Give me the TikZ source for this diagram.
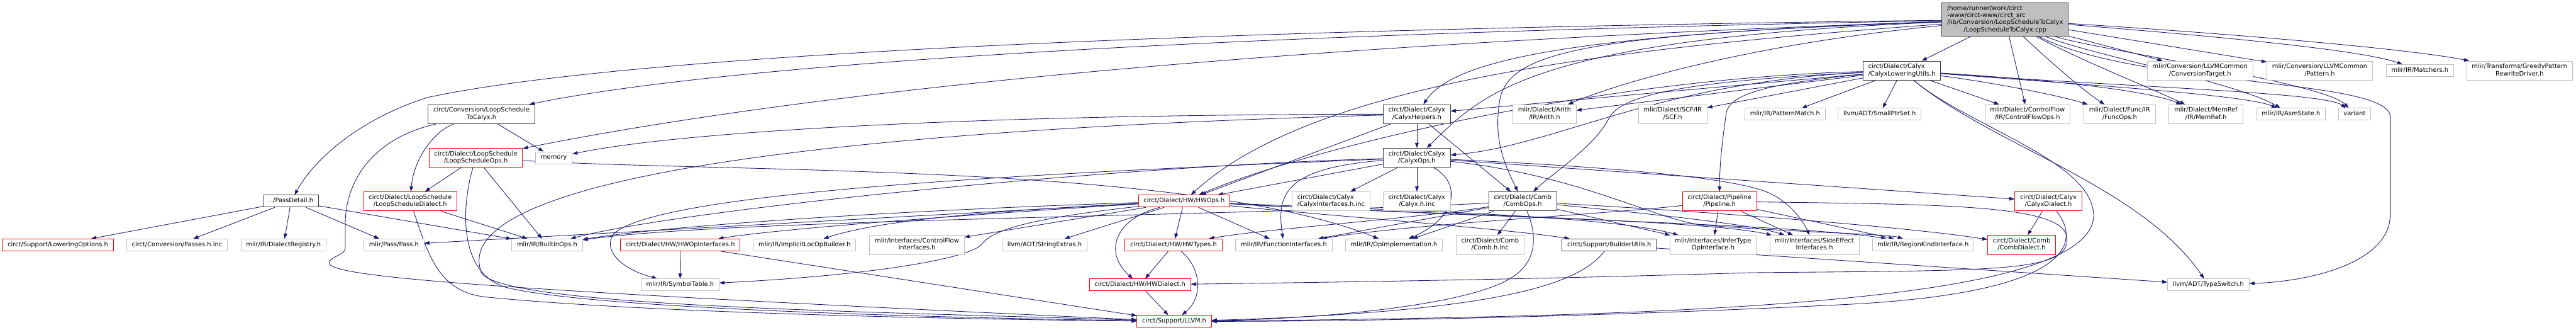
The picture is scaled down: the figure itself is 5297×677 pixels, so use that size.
\documentclass[tikz,border=0pt]{standalone}
\usepackage{fontspec}
\setmainfont{DejaVu Sans}
\usetikzlibrary{arrows.meta,backgrounds}
\definecolor{edgec}{HTML}{191970}
\definecolor{grayb}{HTML}{BFBFBF}
\definecolor{mainfill}{HTML}{BFBFBF}
\definecolor{mainb}{HTML}{404040}
\newcommand{\Lone}[1]{\begin{tabular}{@{}c@{}}#1\end{tabular}}
\newcommand{\Ltwo}[2]{\begin{tabular}{@{}l@{}}#1\\\multicolumn{1}{@{}c@{}}{#2}\end{tabular}}
\newcommand{\Lfour}[4]{\begin{tabular}{@{}l@{}}#1\\#2\\#3\\\multicolumn{1}{@{}c@{}}{#4}\end{tabular}}
\tikzset{
 bx/.style={rectangle, line width=1.2pt, fill=white, inner xsep=10.7pt, inner ysep=4.9pt, font=\fontsize{12.8}{14.7}\selectfont},
 nb/.style={bx, draw=mainb},
 ng/.style={bx, draw=grayb},
 nr/.style={bx, draw=red},
 nm/.style={bx, draw=mainb, fill=mainfill},
 ar/.style={draw=edgec, line width=1.1pt, -{Triangle[length=10.5pt,width=7.5pt]}},
}
\begin{document}
\begin{tikzpicture}[x=1pt,y=-1pt]
\useasboundingbox (0,0) rectangle (5297,677);
% nodes
\node[nm] (M) at (4123,40) {\Lfour{/home/runner/work/circt}{-www/circt-www/circt\_src}{/lib/Conversion/LoopScheduleToCalyx}{/LoopScheduleToCalyx.cpp}};
\node[nb] (PD) at (598.7,413) {\Lone{../PassDetail.h}};
\node[nr] (LO) at (119,503) {\Lone{circt/Support/LoweringOptions.h}};
\node[ng] (PI) at (364,503) {\Lone{circt/Conversion/Passes.h.inc}};
\node[ng] (DR) at (583,503) {\Lone{mlir/IR/DialectRegistry.h}};
\node[ng] (PS) at (810,503) {\Lone{mlir/Pass/Pass.h}};
\node[nr] (LSD) at (843.5,413.5) {\Ltwo{circt/Dialect/LoopSchedule}{/LoopScheduleDialect.h}};
\node[nb] (LSTC) at (990,234.5) {\Ltwo{circt/Conversion/LoopSchedule}{ToCalyx.h}};
\node[nr] (LSO) at (978.5,324) {\Ltwo{circt/Dialect/LoopSchedule}{/LoopScheduleOps.h}};
\node[ng] (MEM) at (1139,324) {\Lone{memory}};
\node[ng] (BO) at (1125,503) {\Lone{mlir/IR/BuiltinOps.h}};
\node[nr] (HOI) at (1399,503) {\Lone{circt/Dialect/HW/HWOpInterfaces.h}};
\node[ng] (ILB) at (1654.5,503) {\Lone{mlir/IR/ImplicitLocOpBuilder.h}};
\node[ng] (ST) at (1398.5,585) {\Lone{mlir/IR/SymbolTable.h}};
\node[ng] (CFI) at (1885.5,503) {\Ltwo{mlir/Interfaces/ControlFlow}{Interfaces.h}};
\node[ng] (SE) at (2148,503) {\Lone{llvm/ADT/StringExtras.h}};
\node[nr] (HWO) at (2435,413) {\Lone{circt/Dialect/HW/HWOps.h}};
\node[nr] (HWT) at (2413,503) {\Lone{circt/Dialect/HW/HWTypes.h}};
\node[nr] (HWD) at (2344,585) {\Lone{circt/Dialect/HW/HWDialect.h}};
\node[nr] (LLVM) at (2414.5,660) {\Lone{circt/Support/LLVM.h}};
\node[ng] (FI) at (2640,503) {\Lone{mlir/IR/FunctionInterfaces.h}};
\node[nb] (CH) at (2913.5,234.5) {\Ltwo{circt/Dialect/Calyx}{/CalyxHelpers.h}};
\node[nb] (CO) at (2913.5,324) {\Ltwo{circt/Dialect/Calyx}{/CalyxOps.h}};
\node[ng] (CII) at (2737,413.5) {\Ltwo{circt/Dialect/Calyx}{/CalyxInterfaces.h.inc}};
\node[ng] (CHI) at (2913.5,413.5) {\Ltwo{circt/Dialect/Calyx}{/Calyx.h.inc}};
\node[nb] (CB) at (3131,413.5) {\Ltwo{circt/Dialect/Comb}{/CombOps.h}};
\node[ng] (AR) at (3176,234.5) {\Ltwo{mlir/Dialect/Arith}{/IR/Arith.h}};
\node[ng] (SCF) at (3439.5,234.5) {\Ltwo{mlir/Dialect/SCF/IR}{/SCF.h}};
\node[ng] (OI) at (2866.5,503) {\Lone{mlir/IR/OpImplementation.h}};
\node[ng] (CBI) at (3064,503) {\Ltwo{circt/Dialect/Comb}{/Comb.h.inc}};
\node[nb] (BU) at (3309,503) {\Lone{circt/Support/BuilderUtils.h}};
\node[nb] (CLU) at (3910.7,145) {\Ltwo{circt/Dialect/Calyx}{/CalyxLoweringUtils.h}};
\node[ng] (PM) at (3670.6,234.5) {\Lone{mlir/IR/PatternMatch.h}};
\node[ng] (SPS) at (3865,234.5) {\Lone{llvm/ADT/SmallPtrSet.h}};
\node[ng] (CFO) at (4169,234.5) {\Ltwo{mlir/Dialect/ControlFlow}{/IR/ControlFlowOps.h}};
\node[ng] (FO) at (4358.5,234.5) {\Ltwo{mlir/Dialect/Func/IR}{/FuncOps.h}};
\node[ng] (MR) at (4536,234.5) {\Ltwo{mlir/Dialect/MemRef}{/IR/MemRef.h}};
\node[ng] (AS) at (4711,234.5) {\Lone{mlir/IR/AsmState.h}};
\node[ng] (VAR) at (4841.6,234.5) {\Lone{variant}};
\node[ng] (CT) at (4524,145) {\Ltwo{mlir/Conversion/LLVMCommon}{/ConversionTarget.h}};
\node[ng] (PAT) at (4770,145) {\Ltwo{mlir/Conversion/LLVMCommon}{/Pattern.h}};
\node[ng] (MAT) at (4976,145) {\Lone{mlir/IR/Matchers.h}};
\node[ng] (GPR) at (5181,145) {\Ltwo{mlir/Transforms/GreedyPattern}{RewriteDriver.h}};
\node[ng] (TS) at (4541,585) {\Lone{llvm/ADT/TypeSwitch.h}};
\node[nr] (PL) at (3535.8,413.5) {\Ltwo{circt/Dialect/Pipeline}{/Pipeline.h}};
\node[nr] (CD) at (4212,413.5) {\Ltwo{circt/Dialect/Calyx}{/CalyxDialect.h}};
\node[ng] (ITO) at (3522.5,503) {\Ltwo{mlir/Interfaces/InferType}{OpInterface.h}};
\node[ng] (SEI) at (3731,503) {\Ltwo{mlir/Interfaces/SideEffect}{Interfaces.h}};
\node[ng] (RKI) at (3954.5,503) {\Lone{mlir/IR/RegionKindInterface.h}};
\node[nr] (CMD) at (4157,503) {\Ltwo{circt/Dialect/Comb}{/CombDialect.h}};
% edges
\begin{scope}[on background layer]
\fill[white] (0,0) rectangle (5297,677);
% main file
\draw[ar] (M) .. controls (2500,60) and (1300,110) .. (880,200) .. controls (750,240) and (650,320) .. (PD);
\draw[ar] (M) .. controls (2500,70) and (1500,130) .. (LSTC);
\draw[ar] (M) .. controls (2500,95) and (1600,200) .. (LSO);
\draw[ar] (M) .. controls (3250,70) and (2990,120) .. (CH);
\draw[ar] (M) .. controls (3150,80) and (3050,190) .. (CO);
\draw[ar] (M) -- (CLU);
\draw[ar] (M) .. controls (3300,70) and (3110,100) .. (3085,200) .. controls (3070,280) and (3090,330) .. (CB);
\draw[ar] (M) .. controls (3300,100) and (2700,170) .. (HWO);
\draw[ar] (M) .. controls (3600,90) and (3330,170) .. (AR);
\draw[ar] (M) -- (CFO);
\draw[ar] (M) .. controls (4230,140) and (4290,190) .. (FO);
\draw[ar] (M) .. controls (4270,120) and (4420,180) .. (MR);
\draw[ar] (M) .. controls (4290,110) and (4600,170) .. (AS);
\draw[ar] (M) .. controls (4300,100) and (4780,170) .. (VAR);
\draw[ar] (M) -- (CT);
\draw[ar] (M) -- (PAT);
\draw[ar] (M) .. controls (4500,70) and (4850,100) .. (MAT);
\draw[ar] (M) .. controls (4600,70) and (4950,100) .. (GPR);
\draw[ar] (M) .. controls (4400,180) and (4915,160) .. (4915,240) -- (4915,440) .. controls (4915,540) and (4750,578) .. (TS);
% CalyxLoweringUtils
\draw[ar] (CLU) -- (CH);
\draw[ar] (CLU) .. controls (3400,170) and (3200,300) .. (CO);
\draw[ar] (CLU) -- (AR);
\draw[ar] (CLU) -- (SCF);
\draw[ar] (CLU) -- (PM);
\draw[ar] (CLU) -- (SPS);
\draw[ar] (CLU) -- (CFO);
\draw[ar] (CLU) .. controls (4100,170) and (4230,195) .. (FO);
\draw[ar] (CLU) .. controls (4150,160) and (4400,180) .. (MR);
\draw[ar] (CLU) .. controls (4300,175) and (4620,195) .. (AS);
\draw[ar] (CLU) .. controls (4400,180) and (4780,190) .. (VAR);
\draw[ar] (CLU) .. controls (3650,170) and (3560,190) .. (3550,230) .. controls (3540,300) and (3536,340) .. (PL);
\draw[ar] (CLU) .. controls (3500,165) and (3340,190) .. (3310,240) .. controls (3280,300) and (3200,350) .. (CB);
\draw[ar] (CLU) .. controls (3300,160) and (2700,300) .. (HWO);
\draw[ar] (CLU) .. controls (4100,300) and (4400,380) .. (TS);
\draw[ar] (CLU) .. controls (4050,260) and (4300,330) .. (4305,440) .. controls (4310,620) and (3500,650) .. (LLVM);
% CalyxHelpers
\draw[ar] (CH) -- (CO);
\draw[ar] (CH) -- (CB);
\draw[ar] (CH) -- (HWO);
\draw[ar] (CH) .. controls (2000,235) and (1400,270) .. (MEM);
\draw[ar] (CH) .. controls (1600,270) and (920,380) .. (990,560) .. controls (1030,630) and (1800,640) .. (LLVM);
% CalyxOps
\draw[ar] (CO) -- (CII);
\draw[ar] (CO) -- (CHI);
\draw[ar] (CO) .. controls (3010,380) and (2990,450) .. (OI);
\draw[ar] (CO) .. controls (2640,345) and (2625,400) .. (FI);
\draw[ar] (CO) -- (CD);
\draw[ar] (CO) .. controls (3250,360) and (3400,450) .. (3500,462) .. controls (3700,478) and (3880,480) .. (RKI);
\draw[ar] (CO) .. controls (3250,340) and (3550,360) .. (3635,395) .. controls (3680,415) and (3705,450) .. (SEI);
\draw[ar] (CO) .. controls (2300,340) and (1400,430) .. (BO);
\draw[ar] (CO) .. controls (2000,360) and (1350,400) .. (1262,480) .. controls (1240,510) and (1270,550) .. (ST);
\draw[ar] (CO) -- (HWO);
% LoopScheduleToCalyx.h
\draw[ar] (LSTC) .. controls (890,270) and (850,330) .. (LSD);
\draw[ar] (LSTC) -- (MEM);
\draw[ar] (LSTC) .. controls (780,280) and (710,360) .. (710,460) -- (710,510) .. controls (710,525) and (665,530) .. (680,545) .. controls (720,570) and (1000,595) .. (LLVM);
% LoopScheduleOps
\draw[ar] (LSO) -- (LSD);
\draw[ar] (LSO) -- (BO);
\draw[ar] (LSO) .. controls (950,420) and (940,560) .. (1040,590) .. controls (1200,630) and (1800,650) .. (LLVM);
\draw[ar] (LSO) .. controls (1500,355) and (2450,335) .. (OI);
% LoopScheduleDialect
\draw[ar] (LSD) -- (BO);
\draw[ar] (LSD) .. controls (880,520) and (900,600) .. (1000,610) .. controls (1300,640) and (1900,655) .. (LLVM);
% PassDetail
\draw[ar] (PD) -- (LO);
\draw[ar] (PD) -- (PI);
\draw[ar] (PD) -- (DR);
\draw[ar] (PD) -- (PS);
\draw[ar] (PD) -- (BO);
% HWOps
\draw[ar] (HWO) -- (HWT);
\draw[ar] (HWO) .. controls (2290,450) and (2270,520) .. (HWD);
\draw[ar] (HWO) -- (SE);
\draw[ar] (HWO) -- (CFI);
\draw[ar] (HWO) .. controls (2000,435) and (1800,455) .. (ILB);
\draw[ar] (HWO) .. controls (1900,430) and (1400,460) .. (BO);
\draw[ar] (HWO) .. controls (2000,440) and (1600,470) .. (HOI);
\draw[ar] (HWO) .. controls (2200,440) and (2050,460) .. (2020,500) .. controls (2000,530) and (1800,565) .. (ST);
\draw[ar] (HWO) -- (FI);
\draw[ar] (HWO) .. controls (2700,440) and (3100,470) .. (BU);
\draw[ar] (HWO) .. controls (2800,430) and (3300,440) .. (ITO);
\draw[ar] (HWO) .. controls (2900,440) and (3500,450) .. (SEI);
\draw[ar] (HWO) .. controls (3000,445) and (3700,460) .. (RKI);
\draw[ar] (HWO) -- (PS);
% HW types / dialect / interfaces
\draw[ar] (HWT) -- (HWD);
\draw[ar] (HWT) .. controls (2470,550) and (2475,610) .. (LLVM);
\draw[ar] (HWD) -- (LLVM);
\draw[ar] (HOI) -- (ST);
\draw[ar] (HOI) -- (LLVM);
% CombOps
\draw[ar] (CB) -- (CBI);
\draw[ar] (CB) -- (OI);
\draw[ar] (CB) -- (FI);
\draw[ar] (CB) .. controls (3160,480) and (3165,540) .. (3100,575) .. controls (3000,630) and (2700,655) .. (LLVM);
\draw[ar] (CB) .. controls (3600,440) and (3950,470) .. (CMD);
\draw[ar] (CB) -- (ITO);
\draw[ar] (CB) .. controls (3400,440) and (3600,460) .. (SEI);
\draw[ar] (CB) .. controls (2900,450) and (2600,470) .. (HWT);
\draw[ar] (CB) .. controls (2500,445) and (1500,450) .. (BO);
% BuilderUtils
\draw[ar] (BU) .. controls (3250,580) and (3100,640) .. (LLVM);
\draw[ar] (BU) -- (TS);
% Pipeline
\draw[ar] (PL) -- (ITO);
\draw[ar] (PL) -- (SEI);
\draw[ar] (PL) -- (RKI);
\draw[ar] (PL) .. controls (3300,440) and (2900,460) .. (FI);
\draw[ar] (PL) .. controls (4000,420) and (4250,420) .. (4250,490) .. controls (4255,560) and (4100,555) .. (3600,560) .. controls (3100,575) and (2700,580) .. (HWD);
% CalyxDialect
\draw[ar] (CD) -- (CMD);
\draw[ar] (CD) .. controls (4275,490) and (4280,600) .. (3800,625) .. controls (3300,650) and (2800,660) .. (LLVM);
\end{scope}
\end{tikzpicture}
\end{document}
